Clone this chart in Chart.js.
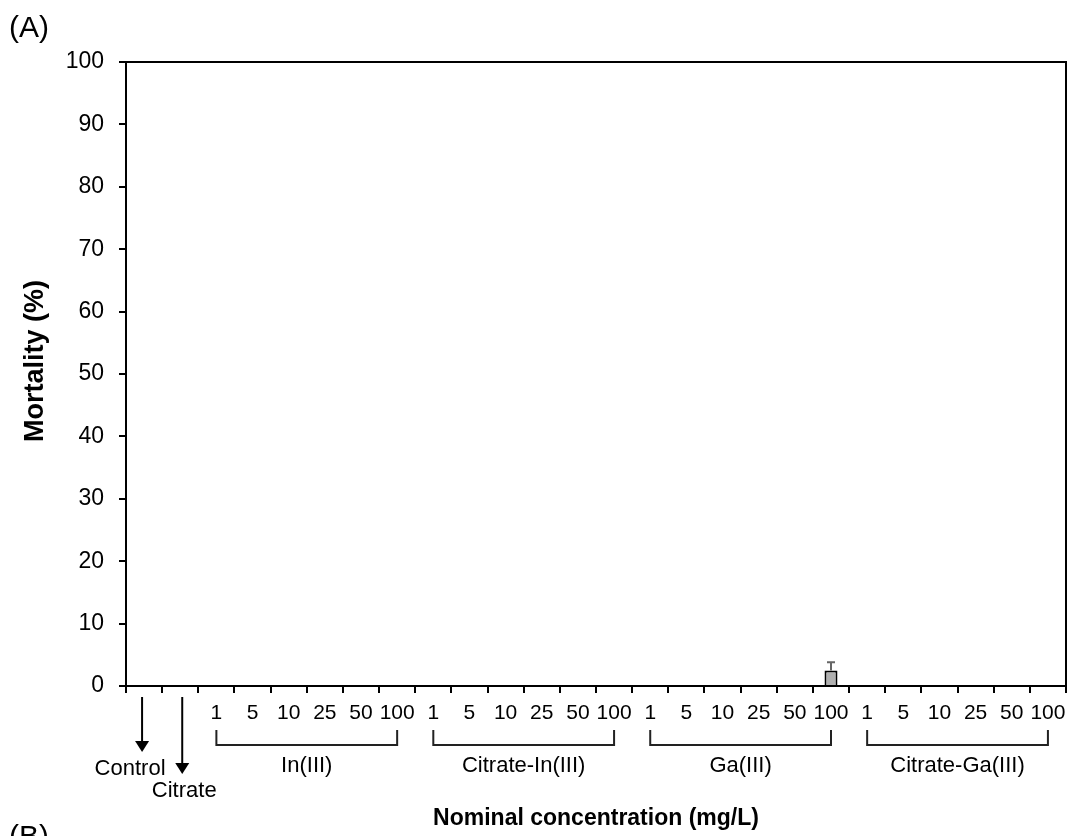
<!DOCTYPE html>
<html>
<head>
<meta charset="utf-8">
<script src="https://cdn.jsdelivr.net/npm/chart.js@4.4.1/dist/chart.umd.min.js"></script>
<style>
  body { margin: 0; background: #fff; }
  #wrap { width: 1069px; height: 836px; }
</style>
</head>
<body>
<div id="wrap"><canvas id="chart" width="1069" height="836"></canvas></div>
<script>
// data
const controls = ['Control', 'Citrate'];
const groups = ['In(III)', 'Citrate-In(III)', 'Ga(III)', 'Citrate-Ga(III)'];
const concentrations = ['1', '5', '10', '25', '50', '100'];
const mortality = [0, 0,
  0, 0, 0, 0, 0, 0,
  0, 0, 0, 0, 0, 0,
  0, 0, 0, 0, 0, 2.5,
  0, 0, 0, 0, 0, 0];
const mortalitySD = [0, 0,
  0, 0, 0, 0, 0, 0,
  0, 0, 0, 0, 0, 0,
  0, 0, 0, 0, 0, 1.3,
  0, 0, 0, 0, 0, 0];
const yTicks = [0, 10, 20, 30, 40, 50, 60, 70, 80, 90, 100];

const labels = controls.concat(groups.flatMap(g => concentrations.map(c => g + ' ' + c)));
const tickLabels = controls.map(() => '').concat(groups.flatMap(() => concentrations));

const FONT = '"Liberation Sans", Arial, sans-serif';

const extras = {
  id: 'extras',
  afterDraw(chart) {
    const ctx = chart.ctx;
    const x = chart.scales.x, y = chart.scales.y;
    const area = chart.chartArea;
    const bottom = area.bottom;
    ctx.save();

    // top and right frame
    ctx.strokeStyle = '#000';
    ctx.lineWidth = 2;
    ctx.beginPath();
    ctx.moveTo(area.left, area.top);
    ctx.lineTo(area.right, area.top);
    ctx.lineTo(area.right, bottom);
    ctx.stroke();

    // error bars
    ctx.strokeStyle = '#666';
    ctx.lineWidth = 2;
    mortalitySD.forEach((sd, i) => {
      if (!sd) return;
      const px = x.getPixelForValue(i);
      const y0 = y.getPixelForValue(mortality[i]);
      const y1 = y.getPixelForValue(mortality[i] + sd);
      ctx.beginPath();
      ctx.moveTo(px, y0);
      ctx.lineTo(px, y1);
      ctx.moveTo(px - 4, y1);
      ctx.lineTo(px + 4, y1);
      ctx.stroke();
    });

    // arrows for Control and Citrate
    ctx.strokeStyle = '#000';
    ctx.fillStyle = '#000';
    ctx.lineWidth = 2;
    const arrowEnd = [66, 88];
    const arrowShift = [-2, 2];
    const textShift = [-12, 2];
    const textY = [83, 105];
    controls.forEach((name, i) => {
      const px = x.getPixelForValue(i) + arrowShift[i];
      const tip = bottom + arrowEnd[i];
      ctx.beginPath();
      ctx.moveTo(px, bottom + 11);
      ctx.lineTo(px, tip - 8);
      ctx.stroke();
      ctx.beginPath();
      ctx.moveTo(px - 7, tip - 11);
      ctx.lineTo(px + 7, tip - 11);
      ctx.lineTo(px, tip);
      ctx.closePath();
      ctx.fill();
      ctx.font = '22px ' + FONT;
      ctx.textAlign = 'center';
      ctx.textBaseline = 'middle';
      ctx.fillText(name, px + textShift[i], bottom + textY[i]);
    });

    // group brackets
    groups.forEach((g, gi) => {
      const first = controls.length + gi * concentrations.length;
      const x1 = x.getPixelForValue(first);
      const x2 = x.getPixelForValue(first + concentrations.length - 1);
      ctx.strokeStyle = '#222';
      ctx.lineWidth = 2;
      ctx.beginPath();
      ctx.moveTo(x1, bottom + 44);
      ctx.lineTo(x1, bottom + 59);
      ctx.lineTo(x2, bottom + 59);
      ctx.lineTo(x2, bottom + 44);
      ctx.stroke();
      ctx.fillStyle = '#000';
      ctx.font = '22px ' + FONT;
      ctx.textAlign = 'center';
      ctx.textBaseline = 'middle';
      ctx.fillText(g, (x1 + x2) / 2, bottom + 80);
    });

    // axis titles
    ctx.fillStyle = '#000';
    ctx.font = 'bold 23px ' + FONT;
    ctx.textAlign = 'center';
    ctx.textBaseline = 'middle';
    ctx.fillText('Nominal concentration (mg/L)', 596, 819);

    ctx.save();
    ctx.translate(36, 361);
    ctx.rotate(-Math.PI / 2);
    ctx.font = 'bold 27px ' + FONT;
    ctx.fillText('Mortality (%)', 0, 0);
    ctx.restore();

    // panel letters
    ctx.font = '30px ' + FONT;
    ctx.textAlign = 'left';
    ctx.fillText('(A)', 9, 29);
    ctx.fillText('(B)', 9, 838);

    ctx.restore();
  }
};

new Chart(document.getElementById('chart'), {
  type: 'bar',
  data: {
    labels: labels,
    datasets: [{
      label: 'Mortality',
      data: mortality,
      backgroundColor: '#b0b0b0',
      borderColor: '#000',
      borderWidth: 2,
      barPercentage: 0.36,
      categoryPercentage: 1
    }]
  },
  options: {
    responsive: false,
    animation: false,
    layout: { padding: { top: 62, right: 3, left: 0, bottom: 0 } },
    plugins: {
      legend: { display: false },
      tooltip: { enabled: false }
    },
    scales: {
      x: {
        offset: true,
        grid: { display: true, drawOnChartArea: false, offset: true, tickLength: 7, color: '#000', lineWidth: 2 },
        border: { display: true, color: '#000', width: 2 },
        ticks: {
          autoSkip: false, maxRotation: 0, padding: 8, color: '#000',
          font: { size: 21, family: FONT },
          callback: (v, i) => tickLabels[i]
        },
        afterFit: s => { s.height = 150; s.paddingLeft = 0; s.paddingRight = 0; }
      },
      y: {
        min: 0, max: 100,
        afterBuildTicks: s => { s.ticks = yTicks.map(v => ({ value: v })); },
        grid: { display: true, drawOnChartArea: false, tickLength: 7, color: '#000', lineWidth: 2 },
        border: { display: true, color: '#000', width: 2 },
        ticks: { padding: 15, color: '#000', font: { size: 23, family: FONT } },
        afterFit: s => { s.width = 126; }
      }
    }
  },
  plugins: [extras]
});
</script>
</body>
</html>
